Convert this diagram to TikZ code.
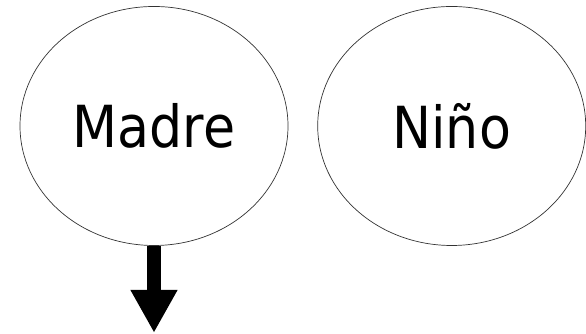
\documentclass[tikz,border=0pt]{standalone}
\usepackage{fontspec}
\newfontfamily\labelfont{DejaVu Sans Condensed}
\usepackage{tikz}
\usetikzlibrary{arrows.meta, positioning, shapes.geometric}

\begin{document}
\begin{tikzpicture}[
    node distance=0.58cm,
    person/.style={ellipse, draw=black!80, thin, minimum width=5.36cm, minimum height=4.78cm, inner sep=0pt, font=\labelfont\fontsize{33}{36}\selectfont},
    arrow/.style={-{Triangle[width=0.88cm, length=0.86cm]}, line width=0.28cm}
]
\useasboundingbox (0,0) rectangle (11.72,6.68);

% Two ellipses
\node[person] (madre) at (3.08,4.16) {Madre};
\node[person, right=of madre] (nino) {Niño};

% Arrow going down
\coordinate[below=1.74cm of madre.south] (out);
\draw[arrow] (madre.south) -- (out);

\end{tikzpicture}
\end{document}
